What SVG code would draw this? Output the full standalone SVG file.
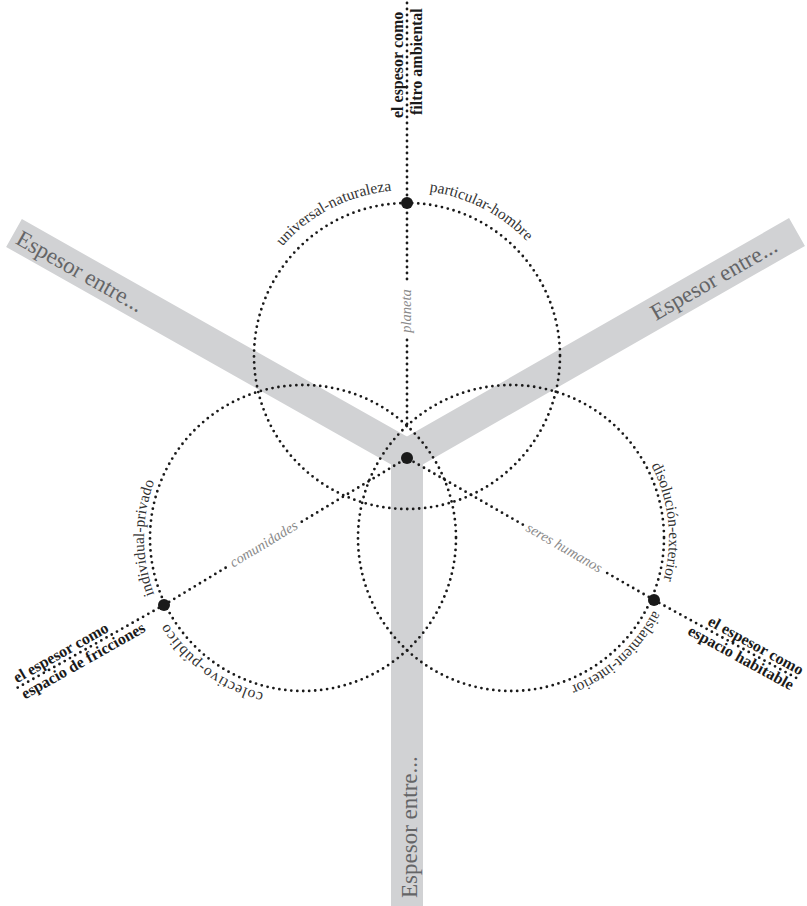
<svg xmlns="http://www.w3.org/2000/svg" width="807" height="906" viewBox="0 0 807 906">
<style>
.band{fill:none;stroke:#d1d2d4;stroke-width:32;stroke-linejoin:miter;stroke-linecap:butt}
.bt{font-family:"Liberation Serif","DejaVu Serif",serif;font-size:23px;fill:#646567}
.dot{fill:none;stroke:#1a1a1a;stroke-width:2.8;stroke-linecap:round;stroke-dasharray:0 6}
.node{fill:#1a1a1a}
.cl{font-family:"Liberation Serif","DejaVu Serif",serif;font-size:15.5px;fill:#333333}
.it{font-family:"Liberation Serif","DejaVu Serif",serif;font-size:14.5px;font-style:italic;fill:#8a8a8a}
.bl{font-family:"Liberation Serif","DejaVu Serif",serif;font-size:16px;font-weight:bold;fill:#1a1a1a}
</style>
<defs>
<path id="pUni" d="M254.2,291.1 A166,166 0 0 1 444.3,194.3"/>
<path id="pPar" d="M369.7,194.3 A166,166 0 0 1 559.8,291.1"/>
<path id="pInd" d="M181.2,640.2 A159,159 0 0 1 181.2,435.8"/>
<path id="pCol" d="M314.2,697.6 A159,159 0 0 1 147.8,576.7"/>
<path id="pDis" d="M620.8,424.4 A158,158 0 0 1 642,626.4"/>
<path id="pAis" d="M669.6,558.9 A160,160 0 0 1 518,697.8"/>
</defs>
<g id="bands">
<path class="band" d="M14,233 L407,455 L797,232"/>
<path class="band" d="M407,440 V906"/>
<text class="bt" transform="translate(14.5,243) rotate(29.46)">Espesor entre...</text>
<text class="bt" text-anchor="end" transform="translate(779,250.5) rotate(-29.76)">Espesor entre...</text>
<text class="bt" transform="translate(416.5,898) rotate(-90)">Espesor entre...</text>
</g>
<g id="circle-planeta">
<circle class="dot" cx="407" cy="356" r="153"/>
<text class="cl"><textPath href="#pUni" startOffset="50%" text-anchor="middle">universal-naturaleza</textPath></text>
<text class="cl"><textPath href="#pPar" startOffset="50%" text-anchor="middle">particular-hombre</textPath></text>
</g>
<g id="circle-comunidades">
<circle class="dot" cx="303" cy="538" r="153"/>
<text class="cl"><textPath href="#pInd" startOffset="50%" text-anchor="middle">individual-privado</textPath></text>
<text class="cl"><textPath href="#pCol" startOffset="50%" text-anchor="middle" textLength="122" lengthAdjust="spacing">colectivo-público</textPath></text>
</g>
<g id="circle-seres-humanos">
<circle class="dot" cx="511" cy="538" r="153"/>
<text class="cl"><textPath href="#pDis" startOffset="50%" text-anchor="middle">disolución-exterior</textPath></text>
<text class="cl"><textPath href="#pAis" startOffset="50%" text-anchor="middle">aislamient-interior</textPath></text>
</g>
<g id="connectors">
<path class="dot" d="M407,3 V282 M407,340 V428"/>
<path class="dot" d="M164,605 L226.5,567.2 M301.8,521.7 L407,458"/>
<path class="dot" d="M654,600 L605.2,571.9 M522.8,524.6 L407,458"/>
<path class="dot" d="M164,605 L17,688"/>
<path class="dot" d="M654,600 L800,680"/>
</g>
<g id="axis-labels">
<text class="it" text-anchor="middle" transform="translate(411,311) rotate(-90)">planeta</text>
<text class="it" text-anchor="middle" transform="translate(266.1,547.9) rotate(-31.17)">comunidades</text>
<text class="it" text-anchor="middle" transform="translate(562,551.8) rotate(29.9)">seres humanos</text>
</g>
<g id="node-center"><circle class="node" cx="407" cy="458" r="6"/></g>
<g id="node-top">
<circle class="node" cx="407" cy="203" r="6"/>
<text class="bl" transform="translate(403,118) rotate(-90)">el espesor como</text>
<text class="bl" transform="translate(422,115) rotate(-90)">filtro ambiental</text>
</g>
<g id="node-left">
<circle class="node" cx="164" cy="605" r="6"/>
<text class="bl" text-anchor="end" transform="translate(109.7,631) rotate(-29.45)">el espesor como</text>
<text class="bl" text-anchor="end" transform="translate(146.5,631) rotate(-29.45)">espacio de fricciones</text>
</g>
<g id="node-right">
<circle class="node" cx="654" cy="600" r="6"/>
<text class="bl" transform="translate(706.8,624.4) rotate(28.7)">el espesor como</text>
<text class="bl" transform="translate(686.8,633.9) rotate(28.7)">espacio habitable</text>
</g>
</svg>
